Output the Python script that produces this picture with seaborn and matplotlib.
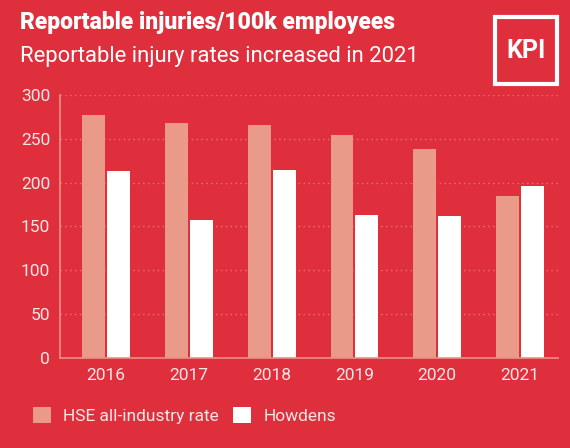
import matplotlib
matplotlib.use("Agg")

import matplotlib.pyplot as plt
import pandas as pd
import seaborn as sns

YEARS = ["2016", "2017", "2018", "2019", "2020", "2021"]
HSE_RATE = [277, 268, 266, 254, 238, 185]
HOWDENS = [213, 157, 214, 163, 162, 196]
SERIES = ["HSE all-industry rate", "Howdens"]
Y_TICKS = [0, 50, 100, 150, 200, 250, 300]

bg, salmon, white, pale = "#DF2E3C", "#EA9A88", "#FFFFFF", "#FBE6E6"
axis_col, grid_col = "#EC8F88", "#EA737A"

data = pd.DataFrame({
    "year": YEARS * 2,
    "value": HSE_RATE + HOWDENS,
    "series": [SERIES[0]] * len(YEARS) + [SERIES[1]] * len(YEARS),
})

sns.set_theme(style="white")
plt.rcParams["font.family"] = ["Roboto", "DejaVu Sans"]

fig = plt.figure(figsize=(5.7, 4.48), dpi=100, facecolor=bg)
ax = fig.add_axes([0.105, 0.201, 0.874, 0.587], facecolor=bg)

sns.barplot(
    data=data, x="year", y="value", hue="series",
    order=YEARS, hue_order=SERIES,
    palette={SERIES[0]: salmon, SERIES[1]: white},
    width=0.6, gap=0.08, saturation=1, linewidth=0, ax=ax,
)

ax.set_xlim(-0.56, 5.46)
ax.set_ylim(0, 300)
ax.set_yticks(Y_TICKS)
ax.set_xlabel("")
ax.set_ylabel("")
ax.grid(axis="y", color=grid_col, linestyle=(0, (1, 2.5)), linewidth=1)
ax.set_axisbelow(True)
for side in ["top", "right"]:
    ax.spines[side].set_visible(False)
for side in ["left", "bottom"]:
    ax.spines[side].set_color(axis_col)
    ax.spines[side].set_linewidth(1.2)
ax.tick_params(length=0, labelsize=12.5, labelcolor=pale, pad=7)

sns.move_legend(
    ax, "center left", bbox_to_anchor=(0.03, 0.073),
    bbox_transform=fig.transFigure, ncol=2, frameon=False, title=None,
    fontsize=12.5, handlelength=1.05, handleheight=1.05, handletextpad=0.7,
    columnspacing=0.8,
)
for text in ax.get_legend().get_texts():
    text.set_color(pale)

fig.text(0.035, 0.935, "Reportable injuries/100k employees", color=white,
         fontsize=16.5, fontweight="black", va="baseline")
fig.text(0.035, 0.862, "Reportable injury rates increased in 2021", color=white,
         fontsize=15.8, va="baseline")

# KPI badge in the top right corner
fig.patches.append(plt.Rectangle((0.868, 0.812), 0.11, 0.15, transform=fig.transFigure,
                                 fill=False, edgecolor=white, linewidth=3))
fig.text(0.923, 0.887, "KPI", color=white, fontsize=18, fontweight="bold",
         ha="center", va="center")

plt.savefig("out.png", dpi=100, facecolor=bg)
plt.close()
